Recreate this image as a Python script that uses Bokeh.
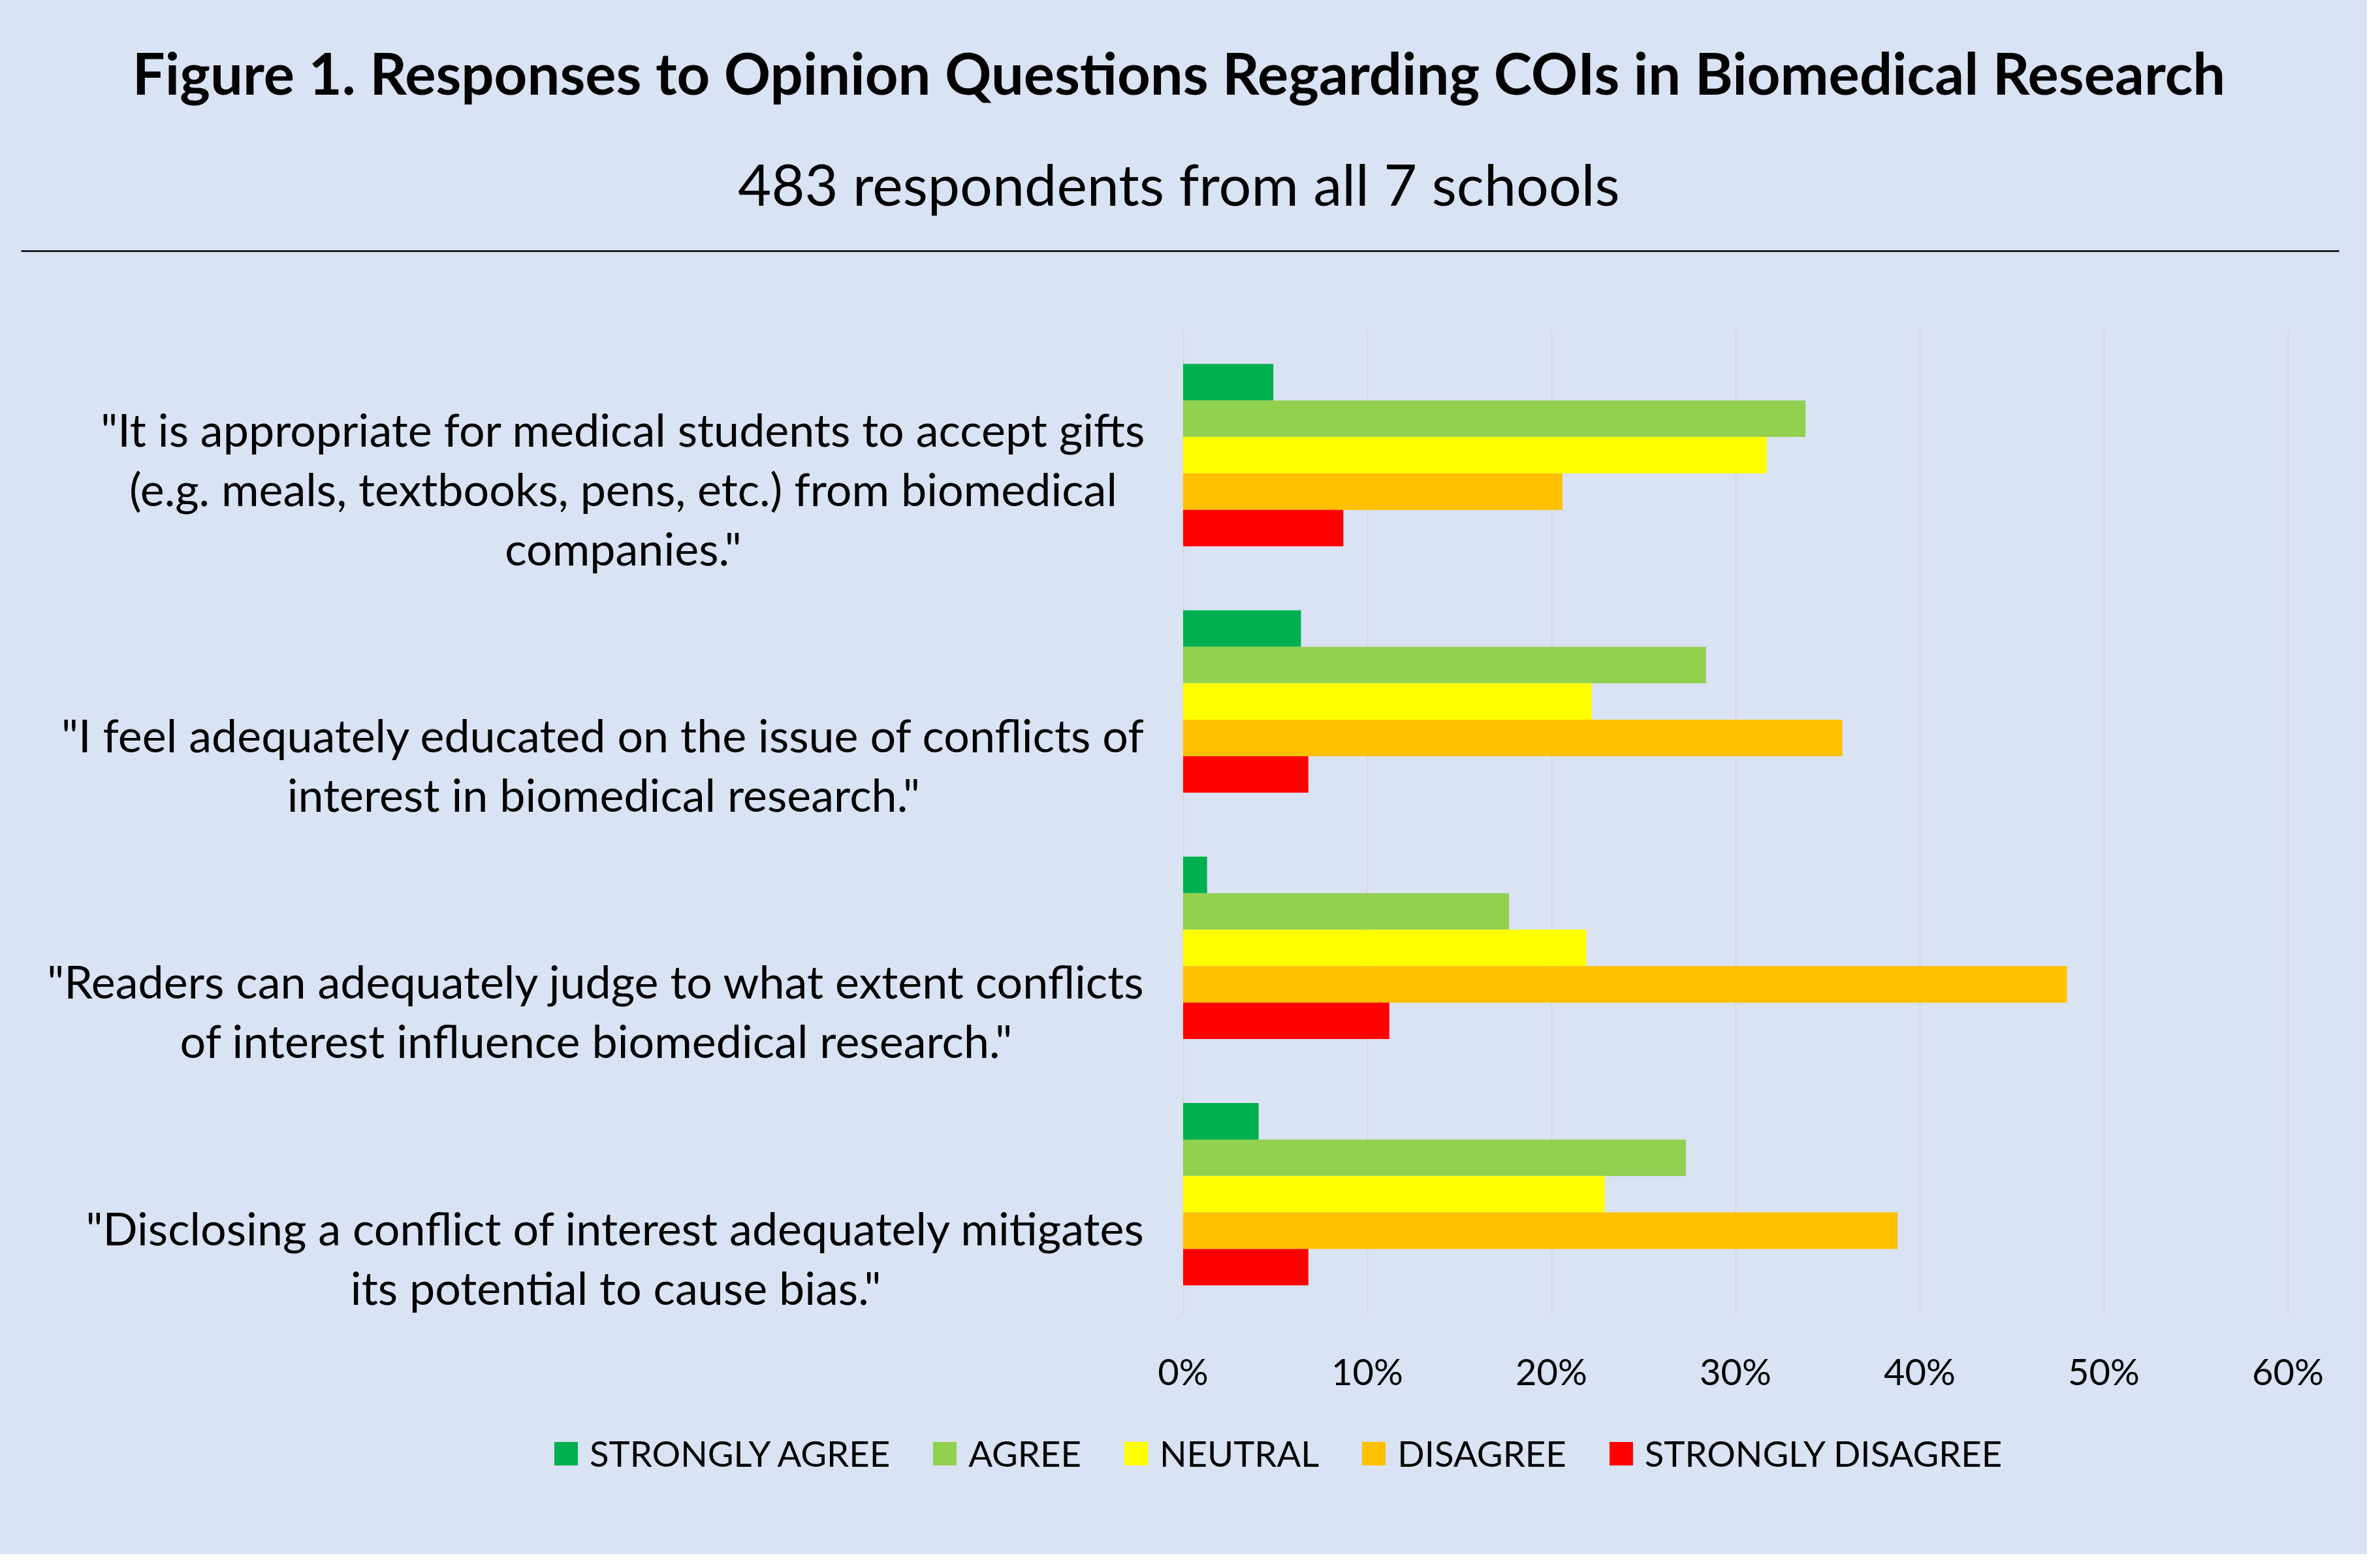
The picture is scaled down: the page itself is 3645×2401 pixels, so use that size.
from bokeh.plotting import figure
from bokeh.layouts import column
from bokeh.models import (ColumnDataSource, FactorRange, FixedTicker, Legend,
                          LegendItem, Range1d)
from bokeh.transform import dodge
from bokeh.core.properties import value
from bokeh.embed import file_html
from bokeh.resources import INLINE

# ---------------- data ----------------
TITLE = "Figure 1. Responses to Opinion Questions Regarding COIs in Biomedical Research"
SUBTITLE = "483 respondents from all 7 schools"

QUESTIONS = [
    '"It is appropriate for medical students to accept gifts\n(e.g. meals, textbooks, pens, etc.) from biomedical\ncompanies."',
    '"I feel adequately educated on the issue of conflicts of\ninterest in biomedical research."',
    '"Readers can adequately judge to what extent conflicts\nof interest influence biomedical research."',
    '"Disclosing a conflict of interest adequately mitigates\nits potential to cause bias."',
]
SERIES = ["STRONGLY AGREE", "AGREE", "NEUTRAL", "DISAGREE", "STRONGLY DISAGREE"]
STRONGLY_AGREE = [4.9, 6.4, 1.3, 4.1]
AGREE = [33.8, 28.4, 17.7, 27.3]
NEUTRAL = [31.7, 22.2, 21.9, 22.9]
DISAGREE = [20.6, 35.8, 48.0, 38.8]
STRONGLY_DISAGREE = [8.7, 6.8, 11.2, 6.8]
TICKS = [0, 10, 20, 30, 40, 50, 60]
TICK_LABELS = ["0%", "10%", "20%", "30%", "40%", "50%", "60%"]

# ---------------- style ----------------
COLORS = ["#00B050", "#92D050", "#FFFF00", "#FFC000", "#FF0000"]
BG = "#DAE3F3"
FONT = "Lato"
W = 3625
HEAD_H, MAIN_H, FOOT_H = 480, 1672, 228
FRAME_TOP, FRAME_BOTTOM = 24, 1533          # within the main figure
PX_PER_PCT = 28.2
ZERO_X = 1811.5
BAR_H = 0.148
SHIFT = -0.01


def blank(height, y_top):
    f = figure(width=W, height=height, x_range=Range1d(0, W), y_range=Range1d(y_top, 0),
               output_backend="svg", toolbar_location=None,
               x_axis_location=None, y_axis_location=None, min_border=0,
               background_fill_color=BG, border_fill_color=BG, outline_line_color=None)
    f.grid.visible = False
    return f


# ---------------- header (title, subtitle, rule) ----------------
head = blank(HEAD_H, HEAD_H)
head.text(x=[1805], y=[110], text=[TITLE], text_align="center",
          text_baseline="alphabetic", text_font=value(FONT), text_font_style="bold",
          text_font_size=value("88.5px"), text_color="black")
head.text(x=[1805], y=[280], text=[SUBTITLE], text_align="center",
          text_baseline="alphabetic", text_font=value(FONT),
          text_font_size=value("88px"), text_color="black")
head.segment(x0=[32], x1=[3582], y0=[384], y1=[384], line_color="black", line_width=2.7)

# ---------------- main chart ----------------
cols = ["sa", "a", "n", "d", "sd"]
src = ColumnDataSource(dict(q=QUESTIONS, sa=STRONGLY_AGREE, a=AGREE, n=NEUTRAL,
                            d=DISAGREE, sd=STRONGLY_DISAGREE))

p = figure(width=W, height=MAIN_H,
           y_range=FactorRange(factors=QUESTIONS[::-1]),
           x_range=Range1d(-ZERO_X / PX_PER_PCT, (W - ZERO_X) / PX_PER_PCT),
           output_backend="svg", toolbar_location=None, y_axis_location=None,
           min_border_left=0, min_border_right=0,
           min_border_top=FRAME_TOP, min_border_bottom=MAIN_H - FRAME_BOTTOM,
           background_fill_color=BG, border_fill_color=BG,
           outline_line_color=BG, outline_line_width=3)

for col, color, k in zip(cols, COLORS, [2, 1, 0, -1, -2]):
    p.hbar(y=dodge("q", k * BAR_H + SHIFT, range=p.y_range), left=0, right=col,
           height=BAR_H, source=src, fill_color=color, line_color=None)

# category labels: right-aligned block, centred lines, sitting at the band bottom
p.text(x=-2.03, y=dodge("q", -0.4975, range=p.y_range), text="q", source=src,
       anchor=value("bottom_right"), text_align=value("center"),
       text_font=value(FONT), text_font_size=value("70px"),
       text_line_height=1.083, text_color="black")

p.xaxis.ticker = FixedTicker(ticks=TICKS)
p.xaxis.major_label_overrides = dict(zip(TICKS, TICK_LABELS))
p.xaxis.axis_line_color = None
p.xaxis.major_tick_line_color = None
p.xaxis.minor_tick_line_color = None
p.xaxis.major_label_standoff = 46
p.xaxis.major_label_text_font = FONT
p.xaxis.major_label_text_font_size = "56px"
p.xaxis.major_label_text_color = "black"
p.xgrid.grid_line_color = "#D9D9D9"
p.xgrid.grid_line_width = 2.5
p.ygrid.visible = False

# ---------------- footer (legend) ----------------
foot = blank(FOOT_H, FOOT_H)
# zero-size swatch renderers that only carry the legend colours
swatches = [foot.hbar(y=[0], left=[0], right=[0], height=0, fill_color=c, line_color=None)
            for c in COLORS]
legend = Legend(items=[LegendItem(label=s, renderers=[r], index=0)
                       for s, r in zip(SERIES, swatches)],
                orientation="horizontal", location=(844, 122),
                glyph_width=45, glyph_height=45, label_standoff=14, spacing=61,
                padding=0, margin=0, border_line_color=None, background_fill_alpha=0,
                label_text_font=FONT, label_text_font_size="54.5px",
                label_text_color="black", label_height=45)
foot.add_layout(legend)

layout = column(head, p, foot, spacing=0, styles={"background-color": BG})
open("out.html", "w").write(file_html(layout, INLINE))
